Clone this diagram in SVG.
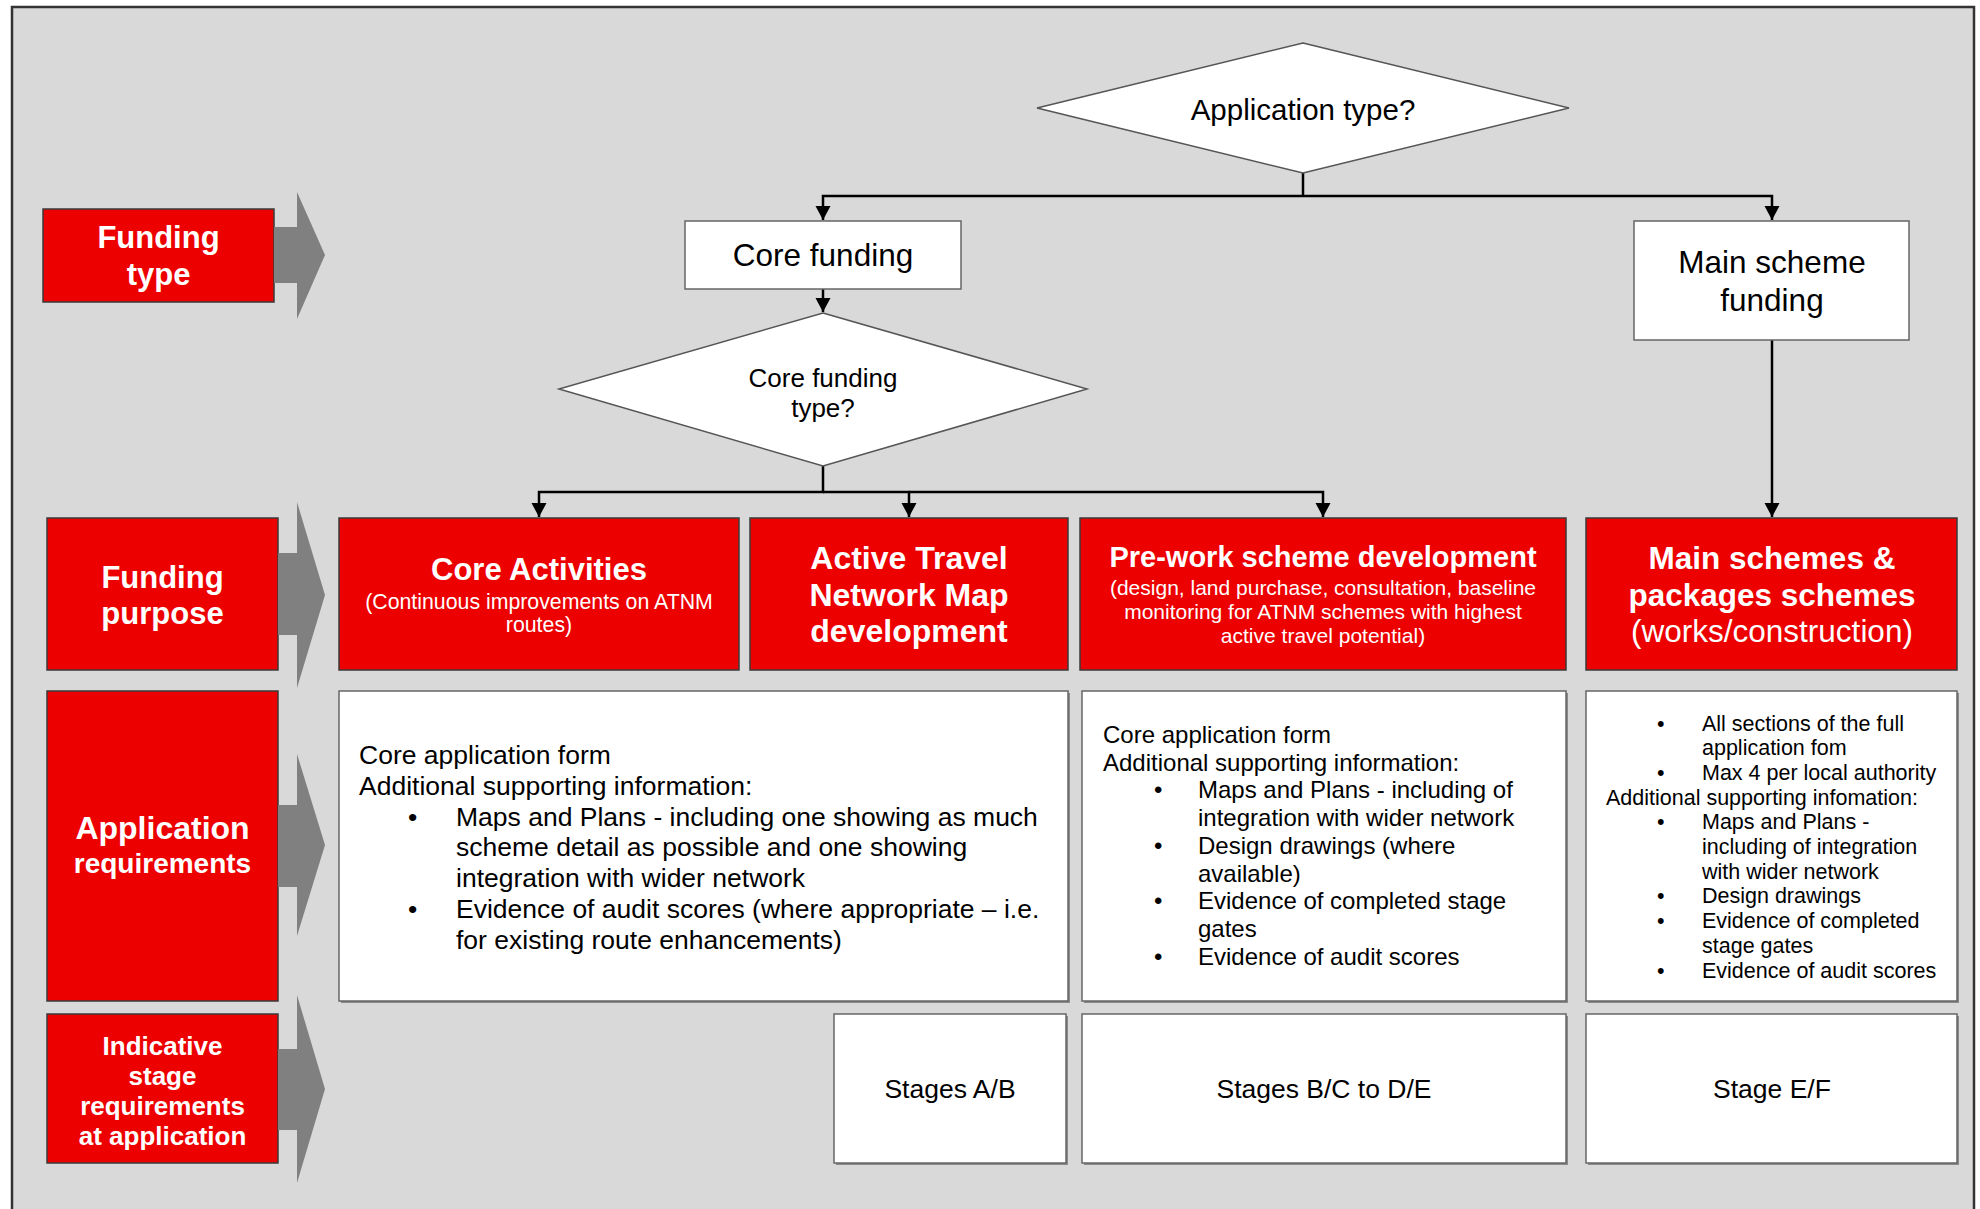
<svg xmlns="http://www.w3.org/2000/svg" width="1980" height="1209" viewBox="0 0 1980 1209">
<defs>
<style>
.frame{fill:#d9d9d9;stroke:#333;stroke-width:2.5}
.red{fill:#ec0000;stroke:#3a3a3a;stroke-width:1.5}
.white{fill:#fff;stroke:#666;stroke-width:1.5}
.shadow{fill:#8a8a8a}
.dia{fill:#fff;stroke:#555;stroke-width:1.5}
.garrow{fill:#808080}
.t{font-family:"Liberation Sans",Arial,sans-serif;fill:#000}
.wb{font-family:"Liberation Sans",Arial,sans-serif;fill:#fff;font-weight:bold;text-anchor:middle}
.w{font-family:"Liberation Sans",Arial,sans-serif;fill:#fff;text-anchor:middle}
.c{text-anchor:middle}
.conn{fill:none;stroke:#000;stroke-width:2.5}
</style>
<marker id="ah" markerUnits="userSpaceOnUse" markerWidth="16" markerHeight="16" refX="14" refY="7.5" orient="auto">
<path d="M0,0 L14,7.5 L0,15 z" fill="#000"/>
</marker>
</defs>
<rect x="0" y="0" width="1980" height="1209" fill="#fff"/>
<rect class="frame" x="12" y="7" width="1962" height="1220"/>

<!-- left labels -->
<g id="label-funding-type">
<rect class="red" x="43" y="209" width="231" height="93"/>
<polygon class="garrow" points="274,227 297,227 297,192 325,255 297,319 297,283 274,283"/>
<text class="wb" x="158.5" y="248" font-size="31">Funding</text>
<text class="wb" x="158.5" y="285" font-size="31">type</text>
</g>
<g id="label-funding-purpose">
<rect class="red" x="47" y="518" width="231" height="152"/>
<polygon class="garrow" points="278,553 297,553 297,502 325,595 297,688 297,635 278,635"/>
<text class="wb" x="162.5" y="588" font-size="31">Funding</text>
<text class="wb" x="162.5" y="624" font-size="31">purpose</text>
</g>
<g id="label-application-requirements">
<rect class="red" x="47" y="691" width="231" height="310"/>
<polygon class="garrow" points="278,805 297,805 297,754 325,845 297,936 297,887 278,887"/>
<text class="wb" x="162.5" y="839" font-size="32">Application</text>
<text class="wb" x="162.5" y="873" font-size="28">requirements</text>
</g>
<g id="label-indicative-stage">
<rect class="red" x="47" y="1014" width="231" height="149"/>
<polygon class="garrow" points="278,1049 297,1049 297,995 325,1089 297,1183 297,1130 278,1130"/>
<text class="wb" x="162.5" y="1055" font-size="26">Indicative</text>
<text class="wb" x="162.5" y="1085" font-size="26">stage</text>
<text class="wb" x="162.5" y="1115" font-size="26">requirements</text>
<text class="wb" x="162.5" y="1145" font-size="26">at application</text>
</g>

<!-- connectors -->
<g id="connectors">
<path class="conn" d="M1303,173 V196"/>
<path class="conn" d="M1303,196 H823 V220" marker-end="url(#ah)"/>
<path class="conn" d="M1303,196 H1772 V220" marker-end="url(#ah)"/>
<path class="conn" d="M823,289 V312" marker-end="url(#ah)"/>
<path class="conn" d="M823,466 V492 H539 V517" marker-end="url(#ah)"/>
<path class="conn" d="M823,492 H909 V517" marker-end="url(#ah)"/>
<path class="conn" d="M909,492 H1323 V517" marker-end="url(#ah)"/>
<path class="conn" d="M1772,340 V517" marker-end="url(#ah)"/>
</g>

<!-- decision / funding nodes -->
<g id="application-type">
<polygon class="dia" points="1303,43 1569,108 1303,173 1037,108"/>
<text class="t c" x="1303" y="120" font-size="29.5">Application type?</text>
</g>
<g id="core-funding">
<rect class="white" x="685" y="221" width="276" height="68"/>
<text class="t c" x="823" y="266" font-size="31.5">Core funding</text>
</g>
<g id="main-scheme-funding">
<rect class="white" x="1634" y="221" width="275" height="119"/>
<text class="t c" x="1772" y="273" font-size="31.5">Main scheme</text>
<text class="t c" x="1772" y="311" font-size="31.5">funding</text>
</g>
<g id="core-funding-type">
<polygon class="dia" points="823,313 1087,389 823,466 559,389"/>
<text class="t c" x="823" y="387" font-size="26">Core funding</text>
<text class="t c" x="823" y="417" font-size="26">type?</text>
</g>

<!-- funding purpose row -->
<g id="core-activities">
<rect class="red" x="339" y="518" width="400" height="152"/>
<text class="wb" x="539" y="580" font-size="31">Core Activities</text>
<text class="w" x="539" y="609" font-size="21.3">(Continuous improvements on ATNM</text>
<text class="w" x="539" y="632" font-size="21.3">routes)</text>
</g>
<g id="atnm-development">
<rect class="red" x="750" y="518" width="318" height="152"/>
<text class="wb" x="909" y="569" font-size="32">Active Travel</text>
<text class="wb" x="909" y="605.5" font-size="32">Network Map</text>
<text class="wb" x="909" y="642" font-size="32">development</text>
</g>
<g id="pre-work">
<rect class="red" x="1080" y="518" width="486" height="152"/>
<text class="wb" x="1323" y="567" font-size="29">Pre-work scheme development</text>
<text class="w" x="1323" y="595" font-size="21">(design, land purchase, consultation, baseline</text>
<text class="w" x="1323" y="619" font-size="21">monitoring for ATNM schemes with highest</text>
<text class="w" x="1323" y="643" font-size="21">active travel potential)</text>
</g>
<g id="main-schemes">
<rect class="red" x="1586" y="518" width="371" height="152"/>
<text class="wb" x="1772" y="569" font-size="31.5">Main schemes &amp;</text>
<text class="wb" x="1772" y="605.5" font-size="31.5">packages schemes</text>
<text class="w" x="1772" y="642" font-size="31.5">(works/construction)</text>
</g>

<!-- application requirements row -->
<g id="core-requirements">
<rect class="shadow" x="341" y="693" width="729" height="310"/>
<rect class="white" x="339" y="691" width="729" height="310"/>
<g class="t" font-size="26.5">
<text x="359" y="764">Core application form</text>
<text x="359" y="795">Additional supporting information:</text>
<text x="408" y="825.5">•</text>
<text x="456" y="825.5">Maps and Plans - including one showing as much</text>
<text x="456" y="856">scheme detail as possible and one showing</text>
<text x="456" y="887">integration with wider network</text>
<text x="408" y="918">•</text>
<text x="456" y="918">Evidence of audit scores (where appropriate – i.e.</text>
<text x="456" y="949">for existing route enhancements)</text>
</g>
</g>
<g id="pre-work-requirements">
<rect class="shadow" x="1084" y="693" width="484" height="310"/>
<rect class="white" x="1082" y="691" width="484" height="310"/>
<g class="t" font-size="24">
<text x="1103" y="743">Core application form</text>
<text x="1103" y="770.7">Additional supporting information:</text>
<text x="1154" y="798.4">•</text>
<text x="1198" y="798.4">Maps and Plans - including of</text>
<text x="1198" y="826">integration with wider network</text>
<text x="1154" y="853.8">•</text>
<text x="1198" y="853.8">Design drawings (where</text>
<text x="1198" y="881.5">available)</text>
<text x="1154" y="909">•</text>
<text x="1198" y="909">Evidence of completed stage</text>
<text x="1198" y="937">gates</text>
<text x="1154" y="964.6">•</text>
<text x="1198" y="964.6">Evidence of audit scores</text>
</g>
</g>
<g id="main-requirements">
<rect class="shadow" x="1588" y="693" width="371" height="310"/>
<rect class="white" x="1586" y="691" width="371" height="310"/>
<g class="t" font-size="21.5">
<text x="1657" y="730.5">•</text>
<text x="1702" y="730.5">All sections of the full</text>
<text x="1702" y="755.2">application fom</text>
<text x="1657" y="779.9">•</text>
<text x="1702" y="779.9">Max 4 per local authority</text>
<text x="1606" y="804.6">Additional supporting infomation:</text>
<text x="1657" y="829.3">•</text>
<text x="1702" y="829.3">Maps and Plans -</text>
<text x="1702" y="854">including of integration</text>
<text x="1702" y="878.7">with wider network</text>
<text x="1657" y="903.4">•</text>
<text x="1702" y="903.4">Design drawings</text>
<text x="1657" y="928.1">•</text>
<text x="1702" y="928.1">Evidence of completed</text>
<text x="1702" y="952.8">stage gates</text>
<text x="1657" y="977.5">•</text>
<text x="1702" y="977.5">Evidence of audit scores</text>
</g>
</g>

<!-- stage row -->
<g id="stages-ab">
<rect class="shadow" x="836" y="1016" width="232" height="149"/>
<rect class="white" x="834" y="1014" width="232" height="149"/>
<text class="t c" x="950" y="1098" font-size="26.5">Stages A/B</text>
</g>
<g id="stages-bc-de">
<rect class="shadow" x="1084" y="1016" width="484" height="149"/>
<rect class="white" x="1082" y="1014" width="484" height="149"/>
<text class="t c" x="1324" y="1098" font-size="26.5">Stages B/C to D/E</text>
</g>
<g id="stage-ef">
<rect class="shadow" x="1588" y="1016" width="371" height="149"/>
<rect class="white" x="1586" y="1014" width="371" height="149"/>
<text class="t c" x="1772" y="1098" font-size="26.5">Stage E/F</text>
</g>
</svg>
